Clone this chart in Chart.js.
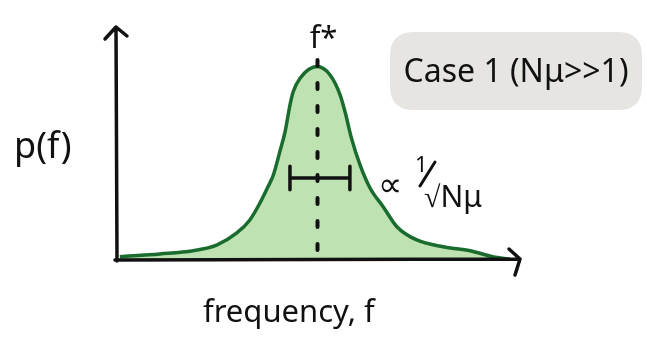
<!DOCTYPE html>
<html><head><meta charset="utf-8">
<script src="https://cdn.jsdelivr.net/npm/chart.js@4"></script>
<style>html,body{margin:0;padding:0;background:#fff;}#wrap{width:647px;height:338px;position:relative;}</style>
</head><body><div id="wrap"><canvas id="c" width="647" height="338"></canvas></div>
<script>
// frequency values (arbitrary units) and probability density p(f)
const freq = [0.12,1.11,1.93,2.51,3.00,3.33,3.58,3.78,3.91,4.07,4.20,4.32,4.40,4.57,4.99,5.31,5.56,5.68,5.84,6.05,6.30,6.62,6.96,7.45,8.10,8.77,9.33,9.75];
const density = [0.014,0.026,0.040,0.064,0.115,0.172,0.245,0.315,0.365,0.465,0.551,0.665,0.722,0.780,0.830,0.794,0.708,0.636,0.522,0.408,0.308,0.229,0.143,0.086,0.057,0.040,0.014,0.003];
const fStar = 5.0;
const fStarLine = [0.043, 0.858];
const widthBarX = [4.32, 5.80];
const widthBarY = 0.352;
const capHalf = 0.05;
const labels = {x:"frequency, f", y:"p(f)", peak:"f*", caseLabel:"Case 1 (Nμ>>1)", prop:"∝", num:"1", den:"√Nμ"};

const curve = freq.map((f,i)=>({x:f,y:density[i]}));
const ink = '#111';

const axesAndText = {
  id:'axesAndText',
  beforeDatasetsDraw(chart){
    const ctx = chart.ctx;
    ctx.save();
    ctx.fillStyle = '#e6e5e2';
    const bx=390, by=32, bw=252, bh=78, r=24;
    ctx.beginPath();
    ctx.moveTo(bx+r,by); ctx.lineTo(bx+bw-r,by); ctx.quadraticCurveTo(bx+bw,by,bx+bw,by+r);
    ctx.lineTo(bx+bw,by+bh-r); ctx.quadraticCurveTo(bx+bw,by+bh,bx+bw-r,by+bh);
    ctx.lineTo(bx+r,by+bh); ctx.quadraticCurveTo(bx,by+bh,bx,by+bh-r);
    ctx.lineTo(bx,by+r); ctx.quadraticCurveTo(bx,by,bx+r,by);
    ctx.fill();
    ctx.restore();
  },
  afterDatasetsDraw(chart){
    const ctx = chart.ctx;
    const xs = chart.scales.x, ys = chart.scales.y;
    const x0 = xs.getPixelForValue(0), y0 = ys.getPixelForValue(0);
    const xEnd = xs.getPixelForValue(10), yTop = ys.getPixelForValue(1);
    ctx.save();
    ctx.strokeStyle = ink; ctx.lineWidth = 3.5; ctx.lineCap='round'; ctx.lineJoin='round';
    ctx.beginPath();
    ctx.moveTo(x0+2, y0+1); ctx.lineTo(x0+1, yTop);
    ctx.moveTo(x0-10, yTop+12); ctx.lineTo(x0+1, yTop); ctx.lineTo(x0+12, yTop+9);
    ctx.moveTo(x0, y0); ctx.lineTo(xEnd, y0-1);
    ctx.moveTo(xEnd-11, y0-11); ctx.lineTo(xEnd, y0-1); ctx.lineTo(xEnd-5, y0+15);
    ctx.stroke();
    ctx.fillStyle = ink; ctx.textBaseline='alphabetic';
    ctx.textAlign='left';
    ctx.font = '36px "Noto Sans"';
    ctx.fillText(labels.y, 14, 158);
    ctx.font = '31px "Noto Sans"';
    ctx.fillText(labels.x, 203, 322);
    ctx.font = '31px "Noto Sans"';
    ctx.textAlign='center';
    ctx.fillText(labels.peak, xs.getPixelForValue(fStar)+6, 48);
    ctx.font = '32px "Noto Sans"';
    ctx.fillText(labels.caseLabel, 516, 82);
    ctx.textAlign='left';
    ctx.font = '34px "Noto Sans"';
    ctx.fillText(labels.prop, 378, 196);
    ctx.font = '22px "Noto Sans"';
    ctx.fillText(labels.num, 415, 172);
    ctx.lineWidth = 3;
    ctx.beginPath(); ctx.moveTo(420,186); ctx.lineTo(435,162); ctx.stroke();
    ctx.font = '30px "Noto Sans"';
    ctx.fillText(labels.den, 424, 207);
    ctx.restore();
  }
};

new Chart(document.getElementById('c'), {
  type:'line',
  data:{datasets:[
    {data:curve, borderColor:'#196b2e', borderWidth:3.5, backgroundColor:'#bfe2b3', fill:'origin', tension:0.4, cubicInterpolationMode:'monotone', pointRadius:0, clip:false, order:3},
    {data:[{x:fStar,y:fStarLine[0]},{x:fStar,y:fStarLine[1]}], borderColor:ink, borderWidth:4, borderDash:[6,17], borderCapStyle:'round', pointRadius:0, fill:false, clip:false, order:2},
    {data:[{x:widthBarX[0],y:widthBarY},{x:widthBarX[1],y:widthBarY}], borderColor:ink, borderWidth:3.5, pointRadius:0, fill:false, clip:false, order:1},
    {data:[{x:widthBarX[0],y:widthBarY+capHalf},{x:widthBarX[0],y:widthBarY-capHalf}], borderColor:ink, borderWidth:3.5, borderCapStyle:'round', pointRadius:0, fill:false, clip:false, order:1},
    {data:[{x:widthBarX[1],y:widthBarY+capHalf},{x:widthBarX[1],y:widthBarY-capHalf}], borderColor:ink, borderWidth:3.5, borderCapStyle:'round', pointRadius:0, fill:false, clip:false, order:1}
  ]},
  options:{
    responsive:false, animation:false, devicePixelRatio:1,
    layout:{padding:{left:115,right:127,top:27,bottom:78}},
    plugins:{legend:{display:false}, tooltip:{enabled:false}},
    scales:{
      x:{type:'linear', min:0, max:10, display:false},
      y:{type:'linear', min:0, max:1, display:false}
    }
  },
  plugins:[axesAndText]
});
</script></body></html>
